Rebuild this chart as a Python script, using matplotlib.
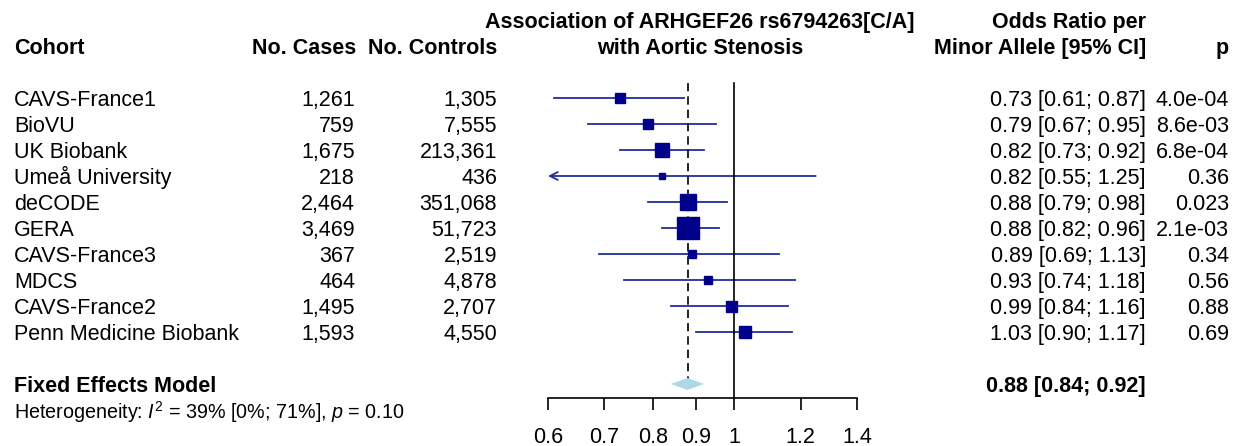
import matplotlib
matplotlib.use("Agg")
import matplotlib.pyplot as plt
import matplotlib.transforms as mtransforms
from matplotlib.ticker import NullLocator
import numpy as np

plt.rcParams["font.family"] = ["Liberation Sans", "DejaVu Sans"]
plt.rcParams["mathtext.fontset"] = "custom"
plt.rcParams["mathtext.rm"] = "Liberation Sans"
plt.rcParams["mathtext.it"] = "Liberation Sans:italic"

# --- data -------------------------------------------------------------
cohorts = [
    "CAVS-France1", "BioVU", "UK Biobank", "Umeå University", "deCODE",
    "GERA", "CAVS-France3", "MDCS", "CAVS-France2", "Penn Medicine Biobank",
]
cases = [1261, 759, 1675, 218, 2464, 3469, 367, 464, 1495, 1593]
controls = [1305, 7555, 213361, 436, 351068, 51723, 2519, 4878, 2707, 4550]
or_est = [0.73, 0.79, 0.82, 0.82, 0.88, 0.88, 0.89, 0.93, 0.99, 1.03]
ci_lo = [0.61, 0.67, 0.73, 0.55, 0.79, 0.82, 0.69, 0.74, 0.84, 0.90]
ci_hi = [0.87, 0.95, 0.92, 1.25, 0.98, 0.96, 1.13, 1.18, 1.16, 1.17]
p_vals = ["4.0e-04", "8.6e-03", "6.8e-04", "0.36", "0.023",
          "2.1e-03", "0.34", "0.56", "0.88", "0.69"]
weights = [6.9, 6.7, 14.1, 1.6, 15.4, 30.4, 3.7, 3.1, 7.6, 10.6]  # % (box area)

fe_est, fe_lo, fe_hi = 0.88, 0.84, 0.92
het_text = r"Heterogeneity: $I^2$ = 39% [0%; 71%], $p$ = 0.10"

xticks = [0.6, 0.7, 0.8, 0.9, 1, 1.2, 1.4]
xtick_labels = ["0.6", "0.7", "0.8", "0.9", "1", "1.2", "1.4"]

# --- layout -----------------------------------------------------------
W, H = 1239, 446
FS = 15.5
BLUE = "#00008B"
LINE_BLUE = "#1F2F9A"

fig = plt.figure(figsize=(W / 100, H / 100), dpi=100)
ax = fig.add_axes([548 / W, 48 / H, 309 / W, 398 / H])
ax.set_xscale("log")
ax.set_xlim(0.6, 1.4)
ax.set_ylim(11.54, -3.77)

rows = np.arange(len(cohorts))
fe_row = len(cohorts) + 1
top_line = -0.58

# reference lines
ax.plot([1, 1], [top_line, 11.54], color="black", lw=1.2, zorder=2)
ax.plot([fe_est, fe_est], [top_line, fe_row], color="black", lw=1.2,
        dashes=(5, 3), zorder=2)

# study CIs and boxes
xmin = ax.get_xlim()[0]
box_scale = 22 / np.sqrt(max(weights))
for y, est, lo, hi, w in zip(rows, or_est, ci_lo, ci_hi, weights):
    if lo < xmin:
        ax.annotate("", xy=(xmin, y), xytext=(hi, y),
                    arrowprops=dict(arrowstyle="->", color=LINE_BLUE, lw=1.3,
                                    shrinkA=0, shrinkB=0, mutation_scale=14),
                    zorder=1)
    else:
        ax.plot([lo, hi], [y, y], color=LINE_BLUE, lw=1.3, zorder=1)
    ax.plot(est, y, marker="s", color=BLUE, ms=box_scale * np.sqrt(w) * 0.72,
            mec=BLUE, zorder=3)

# pooled diamond
h = 0.23
ax.fill([fe_lo, fe_est, fe_hi, fe_est], [fe_row, fe_row - h, fe_row, fe_row + h],
        color="#ADD8E6", lw=0, zorder=3)

# axis
for s in ["left", "right", "top"]:
    ax.spines[s].set_visible(False)
ax.spines["bottom"].set_linewidth(1.2)
ax.set_yticks([])
ax.set_xticks(xticks)
ax.set_xticklabels(xtick_labels)
ax.xaxis.set_minor_locator(NullLocator())
ax.tick_params(axis="x", length=8.6, width=1.2, pad=12, labelsize=FS)

# text columns (baseline placed half a cap height below the row centre)
trans = mtransforms.blended_transform_factory(fig.transFigure, ax.transData)


def put(px, y, s, ha="left", bold=False, size=FS):
    t = mtransforms.offset_copy(trans, fig=fig, y=-0.716 * size / 2, units="points")
    ax.text(px / W, y, s, transform=t, ha=ha, va="baseline", fontsize=size,
            fontweight="bold" if bold else "normal", clip_on=False)


put(14, -2, "Cohort", bold=True)
put(356, -2, "No. Cases", ha="right", bold=True)
put(497, -2, "No. Controls", ha="right", bold=True)
put(700, -3, "Association of ARHGEF26 rs6794263[C/A]", ha="center", bold=True)
put(700, -2, "with Aortic Stenosis", ha="center", bold=True)
put(1146, -3, "Odds Ratio per", ha="right", bold=True)
put(1146, -2, "Minor Allele [95% CI]", ha="right", bold=True)
put(1229, -2, "p", ha="right", bold=True)

for y, name, nc, nk, est, lo, hi, p in zip(rows, cohorts, cases, controls,
                                          or_est, ci_lo, ci_hi, p_vals):
    put(14, y, name)
    put(355, y, f"{nc:,}", ha="right")
    put(497, y, f"{nk:,}", ha="right")
    put(1146, y, f"{est:.2f} [{lo:.2f}; {hi:.2f}]", ha="right")
    put(1229, y, p, ha="right")

put(14, fe_row, "Fixed Effects Model", bold=True)
put(1146, fe_row, f"{fe_est:.2f} [{fe_lo:.2f}; {fe_hi:.2f}]", ha="right", bold=True)
put(14, fe_row + 1.05, het_text, size=14.2)

fig.savefig("out.png", dpi=100)
